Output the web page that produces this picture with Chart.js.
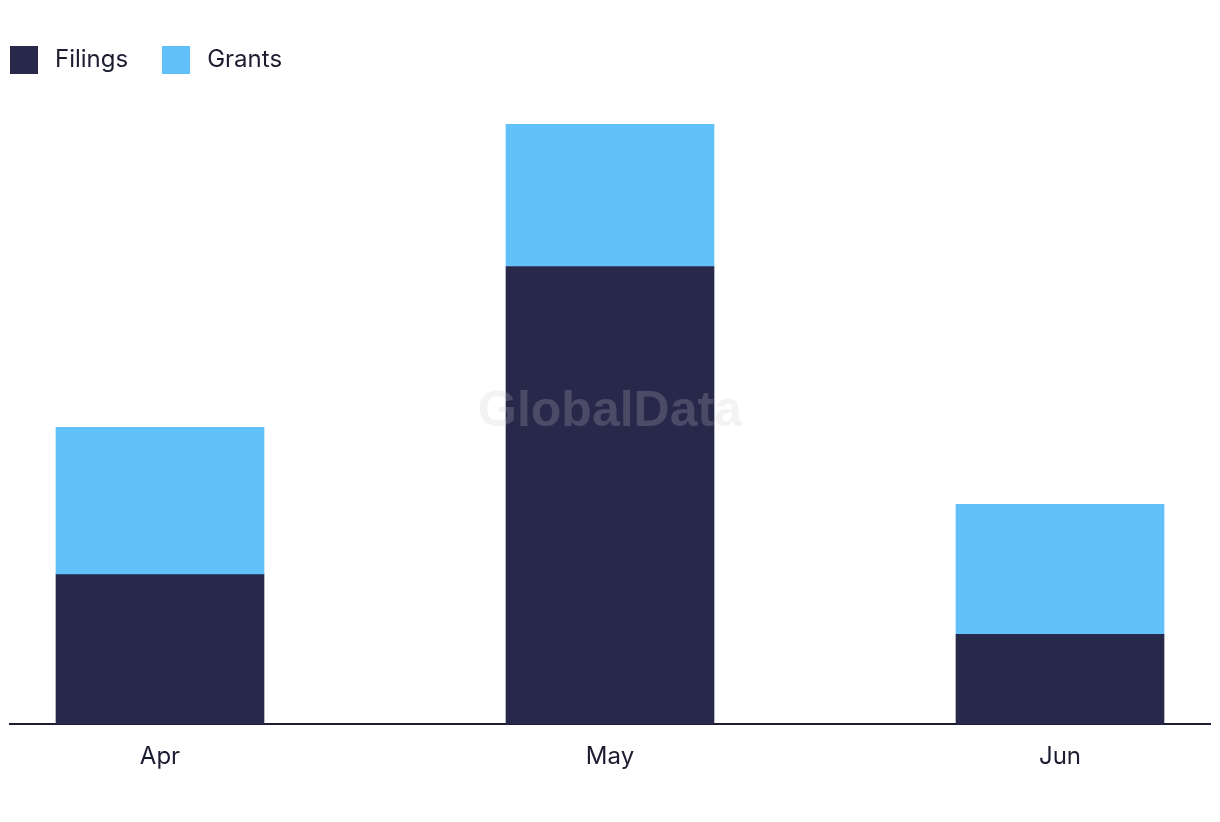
<!DOCTYPE html>
<html>
<head>
<meta charset="utf-8">
<script src="https://cdn.jsdelivr.net/npm/chart.js@4/dist/chart.umd.min.js"></script>
<style>
  html,body{margin:0;padding:0;background:#fff;}
  #wrap{width:1220px;height:822px;position:relative;}
  #legend{position:absolute;left:10px;top:46px;height:28px;display:flex;align-items:center;
    font-family:Inter,"Noto Sans",sans-serif;font-size:24px;color:#1c1c30;}
  .item{display:flex;align-items:center;margin-right:34px;}
  .box{width:28px;height:28px;margin-right:17px;}
  .txt{position:relative;top:-2px;}
</style>
</head>
<body>
<div id="wrap">
  <canvas id="chart"></canvas>
  <div id="legend"></div>
</div>
<script>
// --- data ---
const months=["Apr","May","Jun"];
const filings=[10,30.6,6];
const grants=[9.85,9.5,8.7];

const navy="#28284a", sky="#62c1f9", ink="#1c1c30";

// watermark drawn over the bars
const watermark={
  id:'watermark',
  afterDatasetsDraw(chart){
    const {ctx,chartArea}=chart;
    ctx.save();
    ctx.font='bold 50px "Liberation Sans", Arial, sans-serif';
    ctx.fillStyle='rgba(200,200,210,0.22)';
    ctx.textAlign='center';
    ctx.textBaseline='middle';
    ctx.fillText('GlobalData',(chartArea.left+chartArea.right)/2,412);
    ctx.restore();
  }
};

const pts=arr=>arr.map((v,i)=>({x:i,y:v}));

const chart=new Chart(document.getElementById("chart"),{
  type:'bar',
  data:{datasets:[
    {label:"Filings",data:pts(filings),backgroundColor:navy,barThickness:208},
    {label:"Grants",data:pts(grants),backgroundColor:sky,barThickness:208}
  ]},
  options:{
    responsive:true,
    maintainAspectRatio:false,
    animation:false,
    layout:{padding:{top:81,left:10,right:10,bottom:41}},
    plugins:{legend:{display:false},tooltip:{enabled:false}},
    scales:{
      x:{
        type:'linear',stacked:true,bounds:'data',offset:false,
        min:-1/3,max:7/3,
        afterBuildTicks:s=>{ s.ticks=months.map((m,i)=>({value:i})); },
        grid:{display:false,offset:false},
        border:{display:true,color:ink,width:2},
        ticks:{padding:10,color:ink,autoSkip:false,maxRotation:0,
          font:{family:'Inter, "Noto Sans", sans-serif',size:24},
          callback:v=>months[v]||''}
      },
      y:{stacked:true,display:false,min:0,max:43}
    }
  },
  plugins:[watermark]
});

// html legend
const lg=document.getElementById("legend");
chart.data.datasets.forEach(ds=>{
  const it=document.createElement("div");
  it.className="item";
  it.innerHTML=`<span class="box" style="background:${ds.backgroundColor}"></span><span class="txt">${ds.label}</span>`;
  lg.appendChild(it);
});
</script>
</body>
</html>
